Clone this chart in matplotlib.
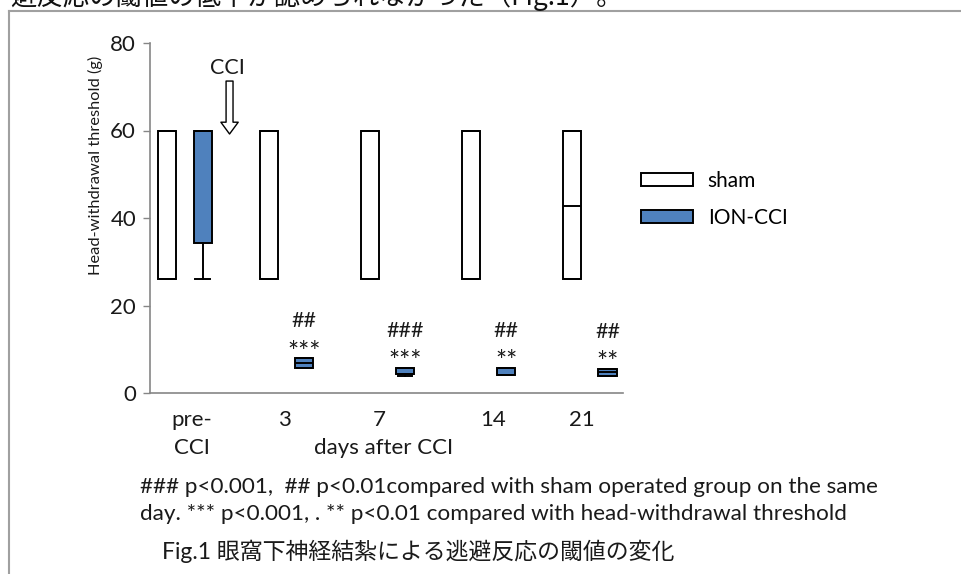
import matplotlib
matplotlib.use('Agg')
import matplotlib.pyplot as plt
from matplotlib.patches import Patch
from matplotlib.lines import Line2D

# ---------------- data ----------------
categories = ['pre-\nCCI', '3', '7', '14', '21']
groups = ['sham', 'ION-CCI']

sham_whislo = [26, 26, 26, 26, 26]
sham_q1 = [26, 26, 26, 26, 26]
sham_med = [60, 60, 60, 60, 42.8]
sham_q3 = [60, 60, 60, 60, 60]
sham_whishi = [60, 60, 60, 60, 60]

ion_whislo = [26, 5.8, 4.0, 4.1, 3.9]
ion_q1 = [34.4, 5.8, 4.4, 4.1, 3.9]
ion_med = [60, 6.9, 4.4, 4.1, 4.8]
ion_q3 = [60, 8.0, 5.8, 5.8, 5.6]
ion_whishi = [60, 8.0, 5.8, 5.8, 5.6]

sig_vs_sham = ['', '##', '###', '##', '##']
sig_vs_pre = ['', '***', '***', '**', '**']

yticks = [0, 20, 40, 60, 80]
ylabel = 'Head-withdrawal threshold (g)'
xlabel = 'days after CCI'
arrow_label = 'CCI'
top_text = '避反応の閾値の低下が認められなかった（Fig.1）。'
note1 = '### p<0.001,  ## p<0.01compared with sham operated group on the same'
note2 = 'day. *** p<0.001, . ** p<0.01 compared with head-withdrawal threshold'
caption = 'Fig.1 眼窩下神経結紮による逃避反応の閾値の変化'

# ---------------- style ----------------
FONT = ['Lato', 'Noto Sans CJK JP', 'DejaVu Sans']
CJK = ['Noto Sans CJK JP', 'DejaVu Sans']
plt.rcParams['font.family'] = FONT
BLUE = '#4F81BD'
GRAY = '#868686'
TXT = '#1a1a1a'

W, H = 961, 574
fig = plt.figure(figsize=(W / 100, H / 100), dpi=100)
fig.patch.set_facecolor('white')

def fx(px):
    return px / W

def fy(py):
    return 1 - py / H

ax_l, ax_r, ax_t, ax_b = 150, 623, 43, 393
ax = fig.add_axes([fx(ax_l), fy(ax_b), (ax_r - ax_l) / W, (ax_b - ax_t) / H])

n = len(categories)
xpos = list(range(n))
off = 0.173
bw = 0.178

def stats(lo, q1, med, q3, hi):
    return [dict(whislo=a, q1=b, med=c, q3=d, whishi=e, fliers=[])
            for a, b, c, d, e in zip(lo, q1, med, q3, hi)]

lw = 1.4
common = dict(showfliers=False, patch_artist=True, manage_ticks=False,
              widths=bw, capwidths=0.14,
              medianprops=dict(color='black', linewidth=lw),
              whiskerprops=dict(color='black', linewidth=lw),
              capprops=dict(color='black', linewidth=lw))

ax.bxp(stats(sham_whislo, sham_q1, sham_med, sham_q3, sham_whishi),
       positions=[x - off for x in xpos],
       boxprops=dict(facecolor='white', edgecolor='black', linewidth=lw), **common)
ax.bxp(stats(ion_whislo, ion_q1, ion_med, ion_q3, ion_whishi),
       positions=[x + off for x in xpos],
       boxprops=dict(facecolor=BLUE, edgecolor='black', linewidth=lw), **common)

xmin, xmax = -0.3457, 4.326
ax.set_xlim(xmin, xmax)
ax.set_ylim(0, 80)
ax.set_yticks(yticks)
ax.tick_params(axis='y', direction='out', length=5, width=1, color=GRAY,
               labelsize=16, pad=5, labelcolor=TXT)
for s in ['top', 'right']:
    ax.spines[s].set_visible(False)
for s in ['left', 'bottom']:
    ax.spines[s].set_color(GRAY)
    ax.spines[s].set_linewidth(1.2)

# x tick labels (slightly offset as in the original)
label_shift = [0.07, -0.02, -0.08, 0.04, -0.08]
ax.set_xticks([x + s for x, s in zip(xpos, label_shift)])
ax.set_xticklabels(categories, fontsize=16, color=TXT)
ax.tick_params(axis='x', length=0, pad=12)
for lbl in ax.get_xticklabels():
    lbl.set_linespacing(1.55)

ax.set_ylabel(ylabel, fontsize=11.8, color=TXT)
ax.yaxis.set_label_coords(-0.099, 0.651)

# "days after CCI"
ax.text(1.96, -12.6, xlabel, ha='center', va='center', fontsize=16,
        color=TXT, clip_on=False)

# significance markers
for i in range(n):
    if sig_vs_sham[i]:
        ax.annotate(sig_vs_sham[i], xy=(xpos[i] + off, ion_q3[i]),
                    xytext=(0, 22), textcoords='offset points',
                    ha='center', va='baseline', fontsize=15.5, color=TXT)
    if sig_vs_pre[i]:
        ax.annotate(sig_vs_pre[i], xy=(xpos[i] + off, ion_q3[i]),
                    xytext=(0, -2), textcoords='offset points',
                    ha='center', va='baseline', fontsize=19, color=TXT)

# CCI arrow
ax.annotate('', xy=(0.44, 59.2), xytext=(0.44, 71.3),
            arrowprops=dict(arrowstyle='simple,head_length=0.85,head_width=1.25,tail_width=0.5',
                            mutation_scale=10, facecolor='white', edgecolor='black',
                            linewidth=1.0, shrinkA=0, shrinkB=0))
ax.text(0.415, 74.2, arrow_label, ha='center', va='center', fontsize=15.5,
        color=TXT)

# legend
handles = [Patch(facecolor='white', edgecolor='black', linewidth=lw),
           Patch(facecolor=BLUE, edgecolor='black', linewidth=lw)]
fig.legend(handles, groups, loc='upper left', bbox_to_anchor=(fx(641), fy(171)),
           frameon=False, fontsize=15, handlelength=2.5, handleheight=0.63,
           handletextpad=0.7, labelspacing=0.8, borderpad=0, borderaxespad=0)

# notes and caption
fig.text(fx(140), fy(487), note1, ha='left', va='center', fontsize=16.2, color=TXT)
fig.text(fx(140), fy(514), note2, ha='left', va='center', fontsize=16.2, color=TXT)
fig.text(fx(162), fy(551), caption, ha='left', va='center', fontsize=16.5,
         family=FONT, color=TXT)

# clipped text at the top of the page
fig.text(fx(10), fy(5), top_text, ha='left', va='baseline', fontsize=19,
         family=CJK, color='#111111')

# page frame lines
fig.add_artist(Line2D([fx(8.5), fx(8.5)], [0, fy(11)], transform=fig.transFigure,
                      color='#a0a0a0', linewidth=1.5))
fig.add_artist(Line2D([fx(8.5), 1], [fy(11), fy(11)], transform=fig.transFigure,
                      color='#a0a0a0', linewidth=1.5))

fig.savefig('out.png', dpi=100, facecolor='white')
